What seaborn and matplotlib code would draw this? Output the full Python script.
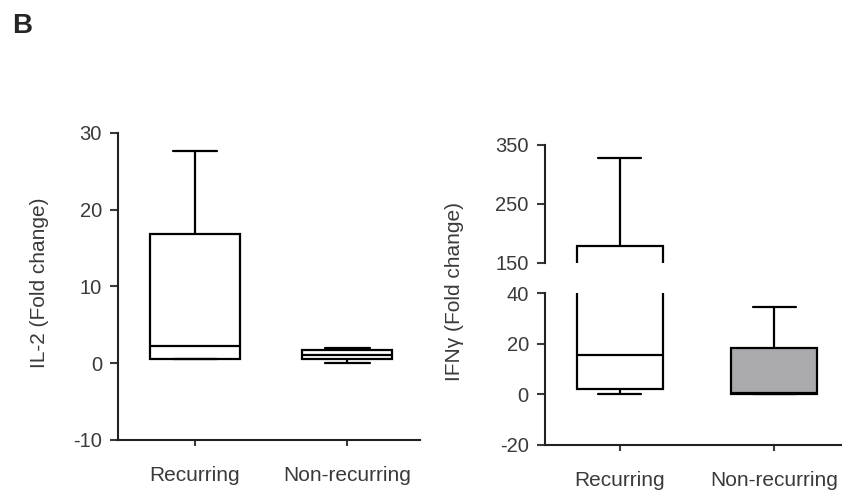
import pandas as pd
import matplotlib.pyplot as plt
import seaborn as sns

# five-number summaries: min, Q1, median, Q3, max
categories = ["Recurring", "Non-recurring"]
il2_recurring = [0.5, 0.6, 2.3, 16.8, 27.7]
il2_nonrecurring = [0.0, 0.5, 1.1, 1.7, 2.0]
ifn_recurring = [0.0, 2.0, 15.5, 178.0, 328.0]
ifn_nonrecurring = [0.0, 0.2, 0.5, 18.5, 34.5]

il2 = pd.DataFrame({
    "group": [categories[0]] * len(il2_recurring) + [categories[1]] * len(il2_nonrecurring),
    "value": il2_recurring + il2_nonrecurring,
})
ifn = pd.DataFrame({
    "group": [categories[0]] * len(ifn_recurring) + [categories[1]] * len(ifn_nonrecurring),
    "value": ifn_recurring + ifn_nonrecurring,
})

sns.set_style("ticks")
plt.rcParams["font.family"] = ["Liberation Sans", "DejaVu Sans"]
plt.rcParams["axes.linewidth"] = 1.5
plt.rcParams["axes.edgecolor"] = "#222222"
plt.rcParams["axes.unicode_minus"] = False

fig = plt.figure(figsize=(8.42, 4.96), dpi=100)

ax1 = fig.add_axes([0.140, 0.113, 0.359, 0.619])
ax2 = fig.add_axes([0.647, 0.103, 0.353, 0.306])
ax3 = fig.add_axes([0.647, 0.470, 0.353, 0.238])

box_kw = dict(x="group", y="value", hue="group", order=categories, whis=(0, 100),
              linecolor="black", linewidth=1.6, saturation=1, legend=False)

sns.boxplot(data=il2, ax=ax1, palette=["white", "white"], width=0.59, **box_kw)
for ax in (ax2, ax3):
    sns.boxplot(data=ifn, ax=ax, palette=["white", "#aaaaae"], width=0.56, **box_kw)

tick_col = "#3a3a3a"

# left panel
ax1.set_ylim(-10, 30)
ax1.set_yticks([-10, 0, 10, 20, 30])
ax1.set_xlim(-0.507, 1.48)
ax1.set_xlabel("")
ax1.set_ylabel("")
sns.despine(ax=ax1)

# right panel, broken axis
ax2.set_ylim(-20, 40)
ax2.set_yticks([-20, 0, 20, 40])
ax3.set_ylim(150, 350)
ax3.set_yticks([150, 250, 350])
for ax in (ax2, ax3):
    ax.set_xlim(-0.487, 1.44)
    ax.set_xlabel("")
    ax.set_ylabel("")
sns.despine(ax=ax2)
sns.despine(ax=ax3, bottom=True)
ax3.set_xticks([])

for ax in (ax1, ax2, ax3):
    ax.tick_params(axis="y", length=5.5, width=1.5, pad=6, labelsize=14.5, colors=tick_col)
    ax.tick_params(axis="x", length=4, width=1.5, pad=15, labelsize=15, colors=tick_col)

fig.text(0.0475, 0.429, "IL-2 (Fold change)", rotation=90, fontsize=15,
         color=tick_col, ha="center", va="center")
fig.text(0.540, 0.413, "IFN\u03b3 (Fold change)", rotation=90, fontsize=15,
         color=tick_col, ha="center", va="center")
fig.text(0.014, 0.948, "B", fontsize=20, fontweight="bold", ha="left", va="center")

plt.savefig("out.png", dpi=100)
